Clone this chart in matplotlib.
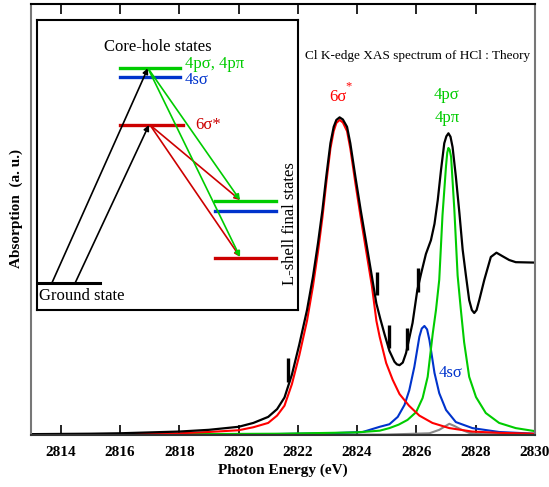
import numpy as np
import matplotlib
matplotlib.use('Agg')
import matplotlib.pyplot as plt

plt.rcParams['font.family'] = ['Liberation Serif', 'DejaVu Serif']

# --- spectrum (photon energy in eV, absorption in a.u.) ---
total_e = [2813.0, 2815.0, 2816.0, 2817.0, 2818.0, 2819.0, 2820.0, 2820.5, 2821.0, 2821.3,
           2821.55, 2821.8, 2822.05, 2822.31, 2822.51, 2822.68, 2822.83, 2822.96, 2823.10,
           2823.21, 2823.30, 2823.41, 2823.52, 2823.66, 2823.77, 2823.94, 2824.12, 2824.31,
           2824.50, 2824.65, 2824.78, 2824.92, 2825.09, 2825.26, 2825.34, 2825.43, 2825.54,
           2825.65, 2825.87, 2826.03, 2826.16, 2826.32, 2826.49, 2826.61, 2826.72, 2826.83,
           2826.94, 2827.01, 2827.08, 2827.15, 2827.22, 2827.33, 2827.45, 2827.56, 2827.67,
           2827.78, 2827.87, 2827.95, 2828.03, 2828.12, 2828.29, 2828.51, 2828.70, 2828.90,
           2829.13, 2829.35, 2830.0]
total_a = [0.002, 0.003, 0.004, 0.006, 0.008, 0.012, 0.019, 0.028, 0.042, 0.06,
           0.087, 0.14, 0.21, 0.29, 0.367, 0.445, 0.522, 0.60, 0.677,
           0.715, 0.731, 0.737, 0.732, 0.715, 0.677, 0.60, 0.522, 0.445,
           0.367, 0.305, 0.27, 0.235, 0.195, 0.17, 0.164, 0.162, 0.168,
           0.19, 0.26, 0.336, 0.375, 0.42, 0.452, 0.49, 0.545, 0.615,
           0.677, 0.693, 0.70, 0.692, 0.668, 0.60, 0.515, 0.43, 0.37,
           0.313, 0.29, 0.283, 0.29, 0.313, 0.36, 0.413, 0.423, 0.415,
           0.406, 0.401, 0.40]

s6_e = [2815.0, 2816.0, 2817.0, 2818.0, 2819.0, 2820.0, 2820.5, 2821.0, 2821.3, 2821.55,
        2821.8, 2822.05, 2822.31, 2822.51, 2822.68, 2822.83, 2822.96, 2823.10, 2823.21,
        2823.30, 2823.41, 2823.52, 2823.66, 2823.77, 2823.94, 2824.12, 2824.31, 2824.50,
        2824.65, 2824.76, 2824.98, 2825.20, 2825.43, 2825.75, 2826.10, 2826.54, 2827.11,
        2827.88, 2828.79, 2830.0]
s6_a = [0.0, 0.002, 0.003, 0.004, 0.007, 0.011, 0.018, 0.028, 0.045, 0.068,
        0.118, 0.185, 0.265, 0.345, 0.425, 0.505, 0.585, 0.665, 0.705,
        0.724, 0.731, 0.725, 0.705, 0.665, 0.585, 0.505, 0.425, 0.345,
        0.265, 0.228, 0.167, 0.128, 0.095, 0.068, 0.045, 0.028, 0.016,
        0.008, 0.005, 0.003]

p4_e = [2814.5, 2818.0, 2821.4, 2823.97, 2824.76, 2825.09, 2825.4, 2825.7, 2825.99, 2826.21,
        2826.38, 2826.55, 2826.66, 2826.77, 2826.88, 2827.0, 2827.04, 2827.08, 2827.12,
        2827.17, 2827.28, 2827.39, 2827.50, 2827.61, 2827.78, 2828.01, 2828.34, 2828.79,
        2829.35, 2829.9, 2830.0]
p4_a = [0.0, 0.002, 0.003, 0.006, 0.01, 0.016, 0.024, 0.035, 0.053, 0.086,
        0.135, 0.235, 0.29, 0.36, 0.51, 0.625, 0.655, 0.666, 0.662,
        0.645, 0.522, 0.37, 0.29, 0.215, 0.135, 0.088, 0.051, 0.028,
        0.016, 0.01, 0.009]

s4_e = [2814.5, 2820.0, 2823.08, 2824.19, 2824.76, 2825.09, 2825.37, 2825.60, 2825.76, 2825.93,
        2826.10, 2826.18, 2826.27, 2826.36, 2826.44, 2826.61, 2826.77, 2827.0, 2827.33,
        2827.89, 2828.79, 2830.0]
s4_a = [0.0, 0.001, 0.004, 0.007, 0.019, 0.025, 0.042, 0.07, 0.104, 0.158,
        0.228, 0.247, 0.253, 0.245, 0.22, 0.144, 0.097, 0.058, 0.03,
        0.016, 0.007, 0.003]

grey_e = [2821.0, 2825.0, 2826.44, 2826.77, 2826.94, 2827.11, 2827.28, 2827.50, 2827.78, 2828.22, 2830.0]
grey_a = [0.0, 0.001, 0.004, 0.012, 0.019, 0.026, 0.021, 0.013, 0.005, 0.002, 0.001]

# short vertical markers on the total spectrum
mark_x = [2821.67, 2824.67, 2825.07, 2825.67, 2826.07]
mark_lo = [0.123, 0.325, 0.202, 0.197, 0.332]
mark_hi = [0.179, 0.379, 0.255, 0.248, 0.387]

xticks = [2814, 2816, 2818, 2820, 2822, 2824, 2826, 2828, 2830]

RED = '#ff0000'
GREEN = '#00cc00'
BLUE = '#0033cc'
GREY = '#888888'

W, H = 549, 487
fig = plt.figure(figsize=(W / 100, H / 100), dpi=100)
ax = fig.add_axes([31 / W, 1 - 435 / H, 504 / W, 431 / H])

line_kw = dict(lw=1.5, solid_joinstyle='round')
ax.plot(grey_e, grey_a, color=GREY, **line_kw)
ax.plot(s4_e, s4_a, color=BLUE, **line_kw)
ax.plot(p4_e, p4_a, color=GREEN, **line_kw)
ax.plot(s6_e, s6_a, color=RED, **line_kw)
ax.plot(total_e, total_a, color='black', lw=1.6, solid_joinstyle='round')
ax.vlines(mark_x, mark_lo, mark_hi, color='black', lw=2.4)

ax.set_xlim(2813, 2830)
ax.set_ylim(0, 1)
ax.set_xticks(xticks)
ax.set_yticks([])
ax.tick_params(axis='x', direction='in', top=True, length=7, width=1.2, pad=8,
               labelsize=11)
for lab in ax.get_xticklabels():
    lab.set_fontweight('bold')
ax.spines['left'].set_color('#777777')
ax.spines['right'].set_color('#777777')
ax.spines['bottom'].set_color('#333333')
for sp in ax.spines.values():
    sp.set_linewidth(1.5)

ax.text(2823.36, 0.784, '6σ', color=RED, fontsize=12, ha='center', va='center')
ax.text(2823.72, 0.81, '*', color=RED, fontsize=9, ha='center', va='center')
ax.text(2827.03, 0.789, '4pσ', color=GREEN, fontsize=12, ha='center', va='center')
ax.text(2827.03, 0.736, '4pπ', color=GREEN, fontsize=12, ha='center', va='center')
ax.text(2827.14, 0.144, '4sσ', color=BLUE, fontsize=12, ha='center', va='center')
ax.text(2826.03, 0.879, 'Cl K-edge XAS spectrum of HCl : Theory', fontsize=9.5,
        ha='center', va='center')

fig.text(283 / W, 1 - 470 / H, 'Photon Energy (eV)', fontsize=11, fontweight='bold',
         ha='center', va='center')
fig.text(16 / W, 1 - 208 / H, 'Absorption  (a. u.)', fontsize=11, fontweight='bold',
         rotation=90, ha='center', va='center')

# --- level scheme inset ---
ins = fig.add_axes([37 / W, 1 - 310 / H, 261 / W, 290 / H])
ins.set_xlim(0, 1)
ins.set_ylim(0, 1)
ins.set_xticks([])
ins.set_yticks([])
for sp in ins.spines.values():
    sp.set_linewidth(1.5)
    sp.set_color('black')

ground_y = 0.093
core_y = {'p': 0.834, 's': 0.803, 'sig': 0.638}
final_y = {'p': 0.376, 's': 0.341, 'sig': 0.179}
lvl_col = {'p': GREEN, 's': BLUE, 'sig': '#cc0000'}

ins.plot([0.0, 0.241], [ground_y, ground_y], color='black', lw=2.2)
ins.plot([0.318, 0.548], [core_y['p']] * 2, color=GREEN, lw=2.4)
ins.plot([0.318, 0.548], [core_y['s']] * 2, color=BLUE, lw=2.4)
ins.plot([0.318, 0.559], [core_y['sig']] * 2, color='#cc0000', lw=2.4)
for k in ['p', 's', 'sig']:
    ins.plot([0.682, 0.916], [final_y[k]] * 2, color=lvl_col[k], lw=2.4)


def arrow(p0, p1, col):
    ins.annotate('', xy=p1, xytext=p0,
                 arrowprops=dict(arrowstyle='-|>', color=col, lw=1.2,
                                 mutation_scale=8, shrinkA=0, shrinkB=0))


arrow((0.057, ground_y), (0.425, core_y['p']), 'black')
arrow((0.146, ground_y), (0.429, core_y['sig']), 'black')
arrow((0.433, core_y['sig']), (0.778, final_y['p'] + 0.003), '#cc0000')
arrow((0.433, core_y['sig']), (0.778, final_y['sig'] + 0.004), '#cc0000')
arrow((0.425, core_y['p']), (0.778, final_y['p'] + 0.003), GREEN)
arrow((0.425, core_y['p']), (0.778, final_y['sig'] + 0.004), GREEN)

ins.text(0.464, 0.907, 'Core-hole states', fontsize=12, ha='center', va='center')
ins.text(0.567, 0.847, '4pσ, 4pπ', fontsize=12, color=GREEN, ha='left', va='center')
ins.text(0.567, 0.792, '4sσ', fontsize=12, color=BLUE, ha='left', va='center')
ins.text(0.605, 0.638, '6σ*', fontsize=12, color='#cc0000', ha='left', va='center')
ins.text(0.008, 0.048, 'Ground state', fontsize=12, ha='left', va='center')
ins.text(0.969, 0.297, 'L-shell final states', fontsize=12, rotation=90,
         ha='center', va='center', clip_on=False)

fig.savefig('out.png', dpi=100)
